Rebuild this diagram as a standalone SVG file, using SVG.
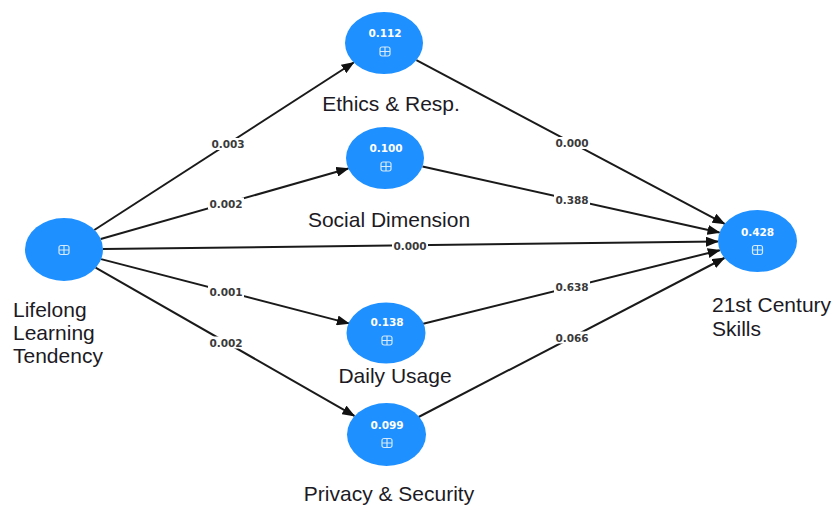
<svg xmlns="http://www.w3.org/2000/svg" width="832" height="506" viewBox="0 0 832 506">
  <style>
    .node { fill: #1e90ff; }
    .icon { fill: none; stroke: #d6eaff; stroke-width: 1.2; }
    .val { font-family: "DejaVu Sans", sans-serif; font-weight: bold; font-size: 10.5px; fill: #ffffff; text-anchor: middle; }
    .lbl { font-family: "Liberation Sans", Arial, sans-serif; font-size: 21px; fill: #1c1a24; }
    .edge { stroke: #1a1a1a; stroke-width: 2; fill: none; marker-end: url(#arrow); }
    .elbl-bg { fill: #ffffff; }
    .elbl { font-family: "DejaVu Sans", sans-serif; font-weight: bold; font-size: 10.5px; fill: #3a3a3a; text-anchor: middle; }
  </style>
  <defs>
    <marker id="arrow" markerUnits="userSpaceOnUse" markerWidth="13" markerHeight="10" refX="12" refY="5" orient="auto">
      <path d="M0,0 L13,5 L0,10 z" fill="#111111"/>
    </marker>
    <!-- expand icon drawn inside each construct -->
    <g id="expand">
      <rect x="-5" y="-4.5" width="10" height="9" rx="2" class="icon"/>
      <path d="M-5,0 H5 M0,-4.5 V4.5" class="icon"/>
    </g>
  </defs>

  <rect width="832" height="506" fill="#ffffff"/>

  <!-- paths between constructs -->
  <g id="connectors">
    <line class="edge" x1="94.3" y1="230" x2="353.7" y2="62.5"/>
    <line class="edge" x1="100.7" y1="239" x2="348.3" y2="168.5"/>
    <line class="edge" x1="103" y1="249" x2="718" y2="241.5"/>
    <line class="edge" x1="101.1" y1="259.1" x2="348.9" y2="323.4"/>
    <line class="edge" x1="95.6" y1="267.6" x2="354.4" y2="415.9"/>
    <line class="edge" x1="416.4" y1="60.2" x2="724.6" y2="223.8"/>
    <line class="edge" x1="422.5" y1="166.4" x2="719.5" y2="232.6"/>
    <line class="edge" x1="423.2" y1="323.8" x2="719.8" y2="250.2"/>
    <line class="edge" x1="418.6" y1="417" x2="724.4" y2="258"/>

    <!-- path coefficients (p-values) -->
    <g id="edge-labels">
      <rect class="elbl-bg" x="210" y="138" width="36" height="12"/>
      <text class="elbl" x="228" y="148">0.003</text>
      <rect class="elbl-bg" x="208" y="197.5" width="36" height="12"/>
      <text class="elbl" x="226" y="207.5">0.002</text>
      <rect class="elbl-bg" x="392" y="239.5" width="36" height="12"/>
      <text class="elbl" x="410" y="249.5">0.000</text>
      <rect class="elbl-bg" x="208" y="285.5" width="36" height="12"/>
      <text class="elbl" x="226" y="295.5">0.001</text>
      <rect class="elbl-bg" x="208" y="336.5" width="36" height="12"/>
      <text class="elbl" x="226" y="346.5">0.002</text>
      <rect class="elbl-bg" x="554" y="137" width="36" height="12"/>
      <text class="elbl" x="572" y="147">0.000</text>
      <rect class="elbl-bg" x="554" y="194" width="36" height="12"/>
      <text class="elbl" x="572" y="204">0.388</text>
      <rect class="elbl-bg" x="554" y="281" width="36" height="12"/>
      <text class="elbl" x="572" y="291">0.638</text>
      <rect class="elbl-bg" x="554" y="331.5" width="36" height="12"/>
      <text class="elbl" x="572" y="341.5">0.066</text>
    </g>
  </g>

  <g id="lifelong-learning">
    <ellipse class="node" cx="64" cy="249.5" rx="39" ry="31.5"/>
    <use href="#expand" x="64" y="250"/>
    <text class="lbl" x="13" y="317">Lifelong</text>
    <text class="lbl" x="13" y="340">Learning</text>
    <text class="lbl" x="13" y="363">Tendency</text>
  </g>

  <g id="ethics">
    <ellipse class="node" cx="384" cy="43" rx="39" ry="31"/>
    <text class="val" x="385" y="37">0.112</text>
    <use href="#expand" x="385" y="51.5"/>
    <text class="lbl" x="391" y="111" text-anchor="middle">Ethics &amp; Resp.</text>
  </g>

  <g id="social">
    <ellipse class="node" cx="385" cy="158" rx="39" ry="31"/>
    <text class="val" x="386" y="152">0.100</text>
    <use href="#expand" x="386" y="166.5"/>
    <text class="lbl" x="389" y="226.5" text-anchor="middle">Social Dimension</text>
  </g>

  <g id="daily-usage">
    <ellipse class="node" cx="386" cy="333" rx="39.5" ry="30.5"/>
    <text class="val" x="387" y="326">0.138</text>
    <use href="#expand" x="387" y="340.5"/>
    <text class="lbl" x="395" y="383" text-anchor="middle">Daily Usage</text>
  </g>

  <g id="privacy">
    <ellipse class="node" cx="386.5" cy="434.5" rx="39.5" ry="31.5"/>
    <text class="val" x="387" y="428.5">0.099</text>
    <use href="#expand" x="387" y="443"/>
    <text class="lbl" x="389" y="501" text-anchor="middle">Privacy &amp; Security</text>
  </g>

  <g id="skills">
    <ellipse class="node" cx="757.5" cy="241" rx="39.5" ry="31"/>
    <text class="val" x="757.5" y="236">0.428</text>
    <use href="#expand" x="757.5" y="250"/>
    <text class="lbl" x="712" y="312">21st Century</text>
    <text class="lbl" x="712" y="336">Skills</text>
  </g>
</svg>
